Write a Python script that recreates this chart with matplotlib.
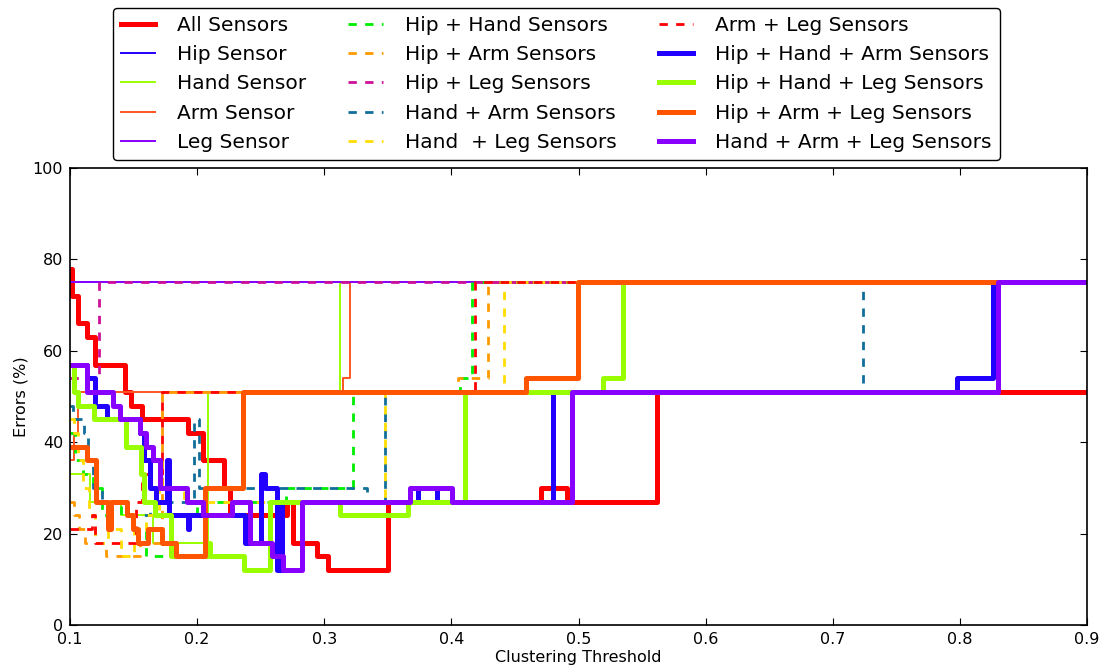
import matplotlib
matplotlib.use("Agg")
import matplotlib.pyplot as plt

# === 1. Data: step change points (threshold, error %) ===
all_x = [0.100, 0.1015, 0.1065, 0.113, 0.1195, 0.143, 0.148, 0.157, 0.193, 0.2046, 0.221, 0.226,
         0.271, 0.2755, 0.294, 0.303, 0.350, 0.4705, 0.491, 0.562, 0.900]
all_y = [78, 72, 66, 63, 57, 51, 48, 45, 42, 36, 30, 24, 27, 18, 15, 12, 27, 30, 27, 51, 51]

hip_x = [0.100, 0.900]
hip_y = [75, 75]

hand_x = [0.100, 0.116, 0.140, 0.165, 0.2085, 0.3125, 0.900]
hand_y = [33, 27, 24, 18, 51, 75, 75]

arm_x = [0.100, 0.103, 0.106, 0.315, 0.320, 0.900]
arm_y = [36, 42, 51, 54, 75, 75]

leg_x = [0.100, 0.900]
leg_y = [75, 75]

hip_hand_x = [0.100, 0.104, 0.110, 0.118, 0.125, 0.130, 0.140, 0.150, 0.160, 0.180, 0.200, 0.270,
              0.3227, 0.407, 0.4165, 0.900]
hip_hand_y = [42, 36, 33, 30, 24, 27, 24, 21, 15, 24, 27, 30, 51, 54, 75, 75]

hip_arm_x = [0.100, 0.103, 0.107, 0.112, 0.128, 0.155, 0.172, 0.405, 0.429, 0.900]
hip_arm_y = [27, 24, 21, 18, 15, 18, 51, 54, 75, 75]

hip_leg_x = [0.100, 0.1225, 0.900]
hip_leg_y = [54, 75, 75]

hand_arm_x = [0.100, 0.102, 0.111, 0.114, 0.118, 0.125, 0.145, 0.163, 0.1975, 0.2015, 0.3335,
              0.348, 0.724, 0.900]
hand_arm_y = [48, 45, 42, 36, 30, 27, 24, 27, 45, 30, 27, 51, 75, 75]

hand_leg_x = [0.100, 0.103, 0.106, 0.110, 0.115, 0.120, 0.130, 0.140, 0.150, 0.160, 0.170, 0.190,
              0.348, 0.4415, 0.900]
hand_leg_y = [45, 42, 36, 30, 24, 18, 21, 15, 21, 24, 30, 27, 51, 75, 75]

arm_leg_x = [0.100, 0.1175, 0.120, 0.152, 0.157, 0.172, 0.4185, 0.900]
arm_leg_y = [21, 24, 18, 27, 33, 51, 75, 75]

hip_hand_arm_x = [0.100, 0.113, 0.1195, 0.129, 0.155, 0.158, 0.163, 0.1675, 0.176, 0.178, 0.1925,
                  0.194, 0.238, 0.2505, 0.2535, 0.263, 0.267, 0.3735, 0.3885, 0.480, 0.798, 0.826, 0.900]
hip_hand_arm_y = [57, 54, 48, 45, 42, 36, 30, 27, 36, 24, 21, 24, 18, 33, 30, 12, 27, 30, 27, 51,
                  54, 75, 75]

hip_hand_leg_x = [0.100, 0.103, 0.1065, 0.119, 0.144, 0.1555, 0.1585, 0.1665, 0.1795, 0.2075,
                  0.2105, 0.2365, 0.257, 0.3125, 0.366, 0.411, 0.519, 0.535, 0.900]
hip_hand_leg_y = [57, 51, 48, 45, 39, 33, 27, 24, 15, 18, 15, 12, 27, 24, 27, 51, 54, 75, 75]

hip_arm_leg_x = [0.100, 0.113, 0.1205, 0.130, 0.1325, 0.145, 0.1495, 0.1535, 0.1615, 0.172, 0.1835,
                 0.206, 0.236, 0.459, 0.4995, 0.900]
hip_arm_leg_y = [39, 36, 27, 21, 27, 24, 21, 18, 21, 18, 15, 30, 51, 54, 75, 75]

hand_arm_leg_x = [0.100, 0.113, 0.134, 0.139, 0.155, 0.160, 0.165, 0.171, 0.192, 0.2046, 0.2275,
                  0.2416, 0.259, 0.2675, 0.2825, 0.3675, 0.4005, 0.495, 0.830, 0.900]
hand_arm_leg_y = [57, 51, 48, 45, 42, 39, 36, 30, 27, 24, 27, 18, 15, 12, 27, 30, 27, 51, 75, 75]

# === 2. Series: (label, x, y, color, width, style) ===
series = [
    ("All Sensors", all_x, all_y, "#ff0000", 3.6, "-"),
    ("Hip Sensor", hip_x, hip_y, "#2200ff", 1.4, "-"),
    ("Hand Sensor", hand_x, hand_y, "#99ff00", 1.4, "-"),
    ("Arm Sensor", arm_x, arm_y, "#ff5522", 1.4, "-"),
    ("Leg Sensor", leg_x, leg_y, "#8800ff", 1.4, "-"),
    ("Hip + Hand Sensors", hip_hand_x, hip_hand_y, "#00ee00", 2.0, "--"),
    ("Hip + Arm Sensors", hip_arm_x, hip_arm_y, "#ff9900", 2.0, "--"),
    ("Hip + Leg Sensors", hip_leg_x, hip_leg_y, "#cc1199", 2.0, "--"),
    ("Hand + Arm Sensors", hand_arm_x, hand_arm_y, "#116e99", 2.0, "--"),
    ("Hand  + Leg Sensors", hand_leg_x, hand_leg_y, "#ffdd00", 2.0, "--"),
    ("Arm + Leg Sensors", arm_leg_x, arm_leg_y, "#ff0000", 2.0, "--"),
    ("Hip + Hand + Arm Sensors", hip_hand_arm_x, hip_hand_arm_y, "#2200ff", 3.6, "-"),
    ("Hip + Hand + Leg Sensors", hip_hand_leg_x, hip_hand_leg_y, "#99ff00", 3.6, "-"),
    ("Hip + Arm + Leg Sensors", hip_arm_leg_x, hip_arm_leg_y, "#ff5500", 3.6, "-"),
    ("Hand + Arm + Leg Sensors", hand_arm_leg_x, hand_arm_leg_y, "#8800ff", 3.6, "-"),
]

# === 3. Plot ===
fig = plt.figure(figsize=(11.08, 6.68), dpi=100)
ax = fig.add_axes([70 / 1108, 43 / 668, 1017 / 1108, 457 / 668])

for label, xs, ys, color, lw, ls in series:
    if ls == "--":
        ax.plot(xs, ys, color=color, lw=lw, linestyle=(0, (3, 3)), drawstyle="steps-post", label=label)
    else:
        ax.plot(xs, ys, color=color, lw=lw, drawstyle="steps-post", label=label)

ax.set_xlim(0.1, 0.9)
ax.set_ylim(0, 100)
ax.set_xticks([0.1, 0.2, 0.3, 0.4, 0.5, 0.6, 0.7, 0.8, 0.9])
ax.set_xticklabels(["0.1", "0.2", "0.3", "0.4", "0.5", "0.6", "0.7", "0.8", "0.9"])
ax.set_yticks([0, 20, 40, 60, 80, 100])
ax.tick_params(direction="in", top=True, right=True, length=5, width=0.8, labelsize=11.5, pad=5)
for sp in ax.spines.values():
    sp.set_linewidth(1.2)

ax.set_xlabel("Clustering Threshold", fontsize=11.5, labelpad=2)
ax.set_ylabel("Errors (%)", fontsize=11.5, labelpad=3)

leg = ax.legend(loc="lower center", bbox_to_anchor=(0.478, 1.0175), ncol=3, fontsize=14.5,
                handlelength=1.7, handletextpad=1.1, columnspacing=2.1, borderpad=0.4,
                labelspacing=0.51, borderaxespad=0, framealpha=1, fancybox=True)
leg.get_frame().set_edgecolor("black")
leg.get_frame().set_linewidth(1.0)

plt.savefig("out.png", dpi=100)
plt.close()
